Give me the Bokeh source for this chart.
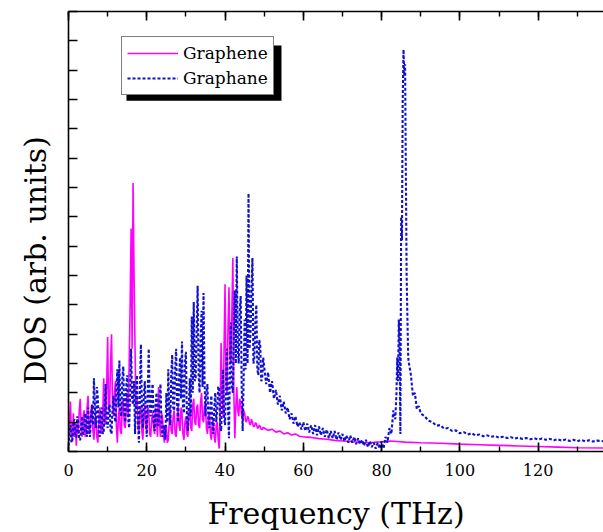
from bokeh.plotting import figure
from bokeh.models import (Range1d, LinearAxis, SingleIntervalTicker, Legend, LegendItem,
                          BoxAnnotation, Title)
from bokeh.embed import file_html
from bokeh.resources import INLINE

# ---------------- data ----------------
# dense part, sampled every 0.25 THz from 0 to 50 THz (one row = 1 THz)
dense_step = 0.25
graphene_dense = [
    0.3, 1.0, 1.7, 0.6,   0.4, 1.3, 0.5, 0.9,   0.2, 1.1, 0.6, 1.4,   1.8, 0.7, 0.5, 1.2,
    1.4, 0.5, 0.6, 1.5,   1.9, 0.6, 0.8, 1.4,   1.6, 0.7, 0.4, 1.1,   1.2, 0.5, 0.3, 1.0,
    1.5, 0.8, 0.6, 1.3,   2.5, 0.9, 1.0, 2.2,   3.9, 1.4, 1.5, 3.0,   4.0, 1.6, 1.2, 2.0,
    2.4, 0.8, 0.3, 1.2,   1.5, 0.7, 0.6, 1.6,   1.8, 0.9, 0.8, 1.5,   2.0, 1.2, 3.0, 5.0,
    7.6, 3.5, 9.15, 6.0,  3.5, 1.5, 1.9, 0.9,   0.6, 1.4, 1.5, 0.7,   0.4, 1.2, 1.6, 0.8,
    0.7, 1.5, 1.4, 0.6,   0.5, 1.1, 1.3, 0.8,   0.6, 1.5, 1.0, 0.5,   2.2, 1.0, 0.5, 1.3,
    1.2, 0.6, 0.3, 0.8,   0.9, 0.3, 0.4, 1.0,   1.5, 0.7, 0.6, 1.2,   1.4, 0.6, 0.5, 1.1,
    1.6, 0.9, 0.7, 1.5,   1.3, 0.6, 0.4, 1.0,   1.2, 0.6, 0.5, 1.3,   1.5, 0.8, 0.7, 1.6,
    1.8, 1.0, 0.9, 1.5,   1.6, 0.9, 0.8, 1.7,   2.0, 1.1, 1.0, 1.6,   1.5, 0.8, 0.6, 1.2,
    1.3, 0.6, 0.4, 1.0,   1.1, 0.5, 0.3, 0.9,   1.0, 0.4, 0.1, 1.5,   3.7, 2.0, 1.2, 3.5,
    5.7, 2.5, 2.0, 4.2,   5.6, 3.2, 3.0, 4.8,   6.6, 2.0, 0.45, 1.5,  2.2, 1.4, 1.2, 1.8,
    1.6, 1.2, 1.1, 1.4,   1.3, 1.05, 1.0, 1.2,  1.15, 0.95, 0.9, 1.1, 1.0, 0.85, 0.85, 0.98,
    0.95, 0.8, 0.8, 0.9,  0.85, 0.75, 0.75, 0.82,
    0.8,
]
graphane_dense = [
    0.2, 0.7, 0.9, 0.3,   0.4, 1.0, 1.1, 0.5,   0.5, 1.2, 1.0, 0.4,   0.4, 0.9, 1.2, 0.6,
    0.6, 1.3, 1.1, 0.5,   1.5, 0.8, 0.5, 1.2,   1.6, 0.9, 2.5, 1.4,   0.8, 2.2, 1.8, 0.7,
    0.5, 1.3, 1.5, 0.6,   0.7, 1.5, 2.3, 1.0,   0.8, 1.4, 1.6, 0.7,   0.6, 1.5, 1.9, 1.2,
    1.0, 2.2, 2.8, 1.5,   3.1, 1.4, 1.2, 2.5,   2.9, 1.3, 1.0, 2.2,   2.6, 1.1, 0.8, 2.0,
    3.5, 1.8, 1.6, 2.4,   0.6, 1.8, 2.6, 1.0,   0.3, 2.0, 3.65, 1.4,  0.8, 1.9, 2.4, 1.2,
    0.5, 2.1, 3.5, 1.6,   1.2, 2.0, 2.3, 1.0,   0.7, 1.6, 2.0, 0.9,   0.9, 1.8, 2.3, 1.0,
    0.5, 0.8, 0.9, 0.4,   2.0, 1.0, 2.8, 1.3,   0.9, 2.6, 3.3, 1.5,   1.4, 2.8, 3.5, 1.6,
    1.0, 2.5, 3.2, 1.8,   3.75, 1.5, 1.3, 3.0,  3.4, 1.2, 0.7, 1.6,   2.5, 1.2, 4.6, 2.0,
    5.1, 2.4, 2.5, 4.2,   5.65, 2.6, 2.0, 3.8,  4.8, 2.2, 5.4, 2.5,   1.2, 2.0, 2.3, 1.0,
    0.8, 1.6, 1.9, 0.9,   0.6, 1.5, 2.0, 1.0,   1.4, 2.2, 2.2, 0.9,   0.7, 1.8, 2.8, 1.2,
    0.9, 2.5, 3.5, 1.5,   0.45, 2.8, 4.4, 2.2,  2.0, 4.0, 5.5, 3.0,   6.65, 3.5, 3.0, 4.8,
    5.3, 2.2, 0.7, 2.5,   4.5, 2.8, 6.0, 3.0,   8.8, 3.5, 4.0, 5.5,   6.6, 3.0, 3.2, 4.5,
    5.0, 2.8, 2.6, 3.8,   3.6, 2.4, 2.5, 3.2,
    2.9,
]

# tails above 50 THz
graphene_tail_freq = [51, 52, 53, 54, 55, 56, 57, 58, 59, 60, 62, 64, 66, 68, 70, 72, 74, 76, 78,
                      80, 82, 84, 86, 90, 95, 100, 105, 110, 115, 120, 125, 130, 136.7]
graphene_tail_dos = [0.72, 0.76, 0.66, 0.7, 0.6, 0.64, 0.56, 0.6, 0.52, 0.5, 0.48, 0.44, 0.42,
                     0.38, 0.36, 0.34, 0.32, 0.3, 0.31, 0.33, 0.36, 0.34, 0.32, 0.3, 0.28, 0.25,
                     0.23, 0.21, 0.19, 0.17, 0.15, 0.13, 0.12]

graphane_tail_freq = [
    50.5, 51, 51.5, 52, 52.5, 53, 53.5, 54, 54.5, 55, 55.5, 56, 56.5, 57, 57.5, 58, 58.5, 59, 59.5,
    60, 60.5, 61, 61.5, 62, 62.5, 63, 63.5, 64, 64.5, 65, 65.5, 66, 66.5, 67, 67.5, 68, 68.5, 69,
    69.5, 70, 70.5, 71, 71.5, 72, 72.5, 73, 73.5, 74, 74.5, 75, 75.5, 76, 76.5, 77, 77.5, 78, 78.5,
    79, 79.5, 80, 80.5, 81, 81.5, 82, 82.5, 83, 83.5, 83.8, 84, 84.2, 84.4, 84.6, 84.8,
    85, 85.2, 85.4, 85.6, 85.8, 86, 86.2, 86.4, 86.6, 86.8,
    87, 87.5, 88, 88.5, 89, 89.5, 90, 91, 92, 93, 94, 95, 96, 97, 98, 99, 100, 101, 102, 103,
    104, 105, 106, 107, 108, 109, 110, 111, 112, 113, 114, 115, 116, 117, 118, 119, 120, 121,
    122, 123, 124, 125, 126, 127, 128, 129, 130, 131, 132, 133, 134, 135, 136.7,
]
graphane_tail_dos = [
    2.3, 2.7, 2.0, 2.4, 1.8, 2.1, 1.6, 1.9, 1.4, 1.7, 1.3, 1.5, 1.1, 1.3, 0.95, 1.2, 0.85, 1.0, 0.75,
    1.0, 0.7, 0.95, 0.65, 0.9, 0.6, 0.9, 0.55, 0.85, 0.55, 0.8, 0.5, 0.75, 0.45, 0.7, 0.45, 0.7, 0.4, 0.65,
    0.4, 0.6, 0.35, 0.55, 0.3, 0.55, 0.3, 0.5, 0.25, 0.45, 0.25, 0.4, 0.2, 0.4, 0.15, 0.35, 0.15, 0.3, 0.1,
    0.3, 0.1, 0.35, 0.1, 0.5, 0.3, 0.8, 0.6, 1.4, 1.1, 2.0, 3.2, 2.4, 4.5, 3.6, 0.6,
    8.0, 7.2, 12.0, 13.7, 12.8, 13.2, 9.5, 6.0, 4.5, 3.2,
    3.0, 2.6, 1.9, 2.0, 1.45, 1.55, 1.3, 1.2, 1.05, 1.0, 0.88, 0.9, 0.78, 0.8, 0.7, 0.72, 0.62, 0.66, 0.58, 0.62,
    0.55, 0.58, 0.52, 0.55, 0.5, 0.53, 0.47, 0.5, 0.46, 0.49, 0.44, 0.47, 0.43, 0.46, 0.42, 0.45, 0.41, 0.44,
    0.4, 0.43, 0.38, 0.42, 0.37, 0.41, 0.36, 0.4, 0.35, 0.39, 0.35, 0.38, 0.34, 0.37, 0.35,
]

dense_freq = [i * dense_step for i in range(len(graphene_dense))]
graphene_freq = dense_freq + graphene_tail_freq
graphene_dos = graphene_dense + graphene_tail_dos
graphane_freq = dense_freq + graphane_tail_freq
graphane_dos = graphane_dense + graphane_tail_dos

series_labels = ["Graphene", "Graphane"]
x_title = "Frequency (THz)"
y_title = "DOS (arb. units)"
x_ticks_major = 20

# ---------------- figure ----------------
FONT = "DejaVu Serif"

p = figure(frame_width=535, frame_height=440,
           min_border_left=68, min_border_right=0,
           min_border_top=11, min_border_bottom=81,
           x_range=Range1d(0, 136.7), y_range=Range1d(0, 15),
           output_backend="svg", toolbar_location=None)
p.outline_line_color = None
p.grid.visible = False
p.background_fill_color = "white"
p.border_fill_color = "white"

r1 = p.line(graphene_freq, graphene_dos, line_color="#ff00ff", line_width=1.6)
r2 = p.line(graphane_freq, graphane_dos, line_color="#1010d0", line_width=2.1,
            line_dash="3 2")

def style_axis(ax):
    ax.axis_line_width = 1.6
    ax.axis_line_color = "black"
    ax.major_tick_in = 9
    ax.major_tick_out = 0
    ax.minor_tick_in = 5
    ax.minor_tick_out = 0
    ax.major_tick_line_width = 1.6
    ax.minor_tick_line_width = 1.4
    ax.major_tick_line_color = "black"
    ax.minor_tick_line_color = "black"

def hide_labels(ax):
    ax.major_label_text_font_size = "1px"
    ax.major_label_text_color = None
    ax.major_label_text_alpha = 0
    ax.major_label_standoff = 0

xb = p.xaxis[0]
xb.ticker = SingleIntervalTicker(interval=x_ticks_major, num_minor_ticks=2)
style_axis(xb)
xb.major_label_text_font = FONT
xb.major_label_text_font_size = "16px"
xb.major_label_text_color = "black"
xb.major_label_standoff = 12
xb.axis_label = x_title
xb.axis_label_text_font = FONT
xb.axis_label_text_font_size = "30px"
xb.axis_label_text_font_style = "normal"
xb.axis_label_text_color = "black"
xb.axis_label_standoff = 17

xt = LinearAxis(ticker=SingleIntervalTicker(interval=x_ticks_major, num_minor_ticks=2))
style_axis(xt)
hide_labels(xt)
p.add_layout(xt, "above")

yl = p.yaxis[0]
yl.ticker = SingleIntervalTicker(interval=1, num_minor_ticks=0)
style_axis(yl)
hide_labels(yl)

# y title as a side title, shifted slightly below the frame centre as in the original
ytitle = Title(text=y_title, align="left", offset=67, standoff=31,
               text_font=FONT, text_font_size="30px", text_font_style="normal",
               text_color="black")
p.add_layout(ytitle, "left")

# legend shadow
shadow = BoxAnnotation(left=14.82, right=54.42, top=13.84, bottom=11.96,
                       fill_color="black", fill_alpha=1.0, line_color=None)
p.add_layout(shadow)

legend = Legend(items=[LegendItem(label=series_labels[0], renderers=[r1]),
                       LegendItem(label=series_labels[1], renderers=[r2])],
                location=(53, 356), orientation="vertical",
                glyph_width=51, glyph_height=22, label_height=22,
                label_standoff=5, padding=5, spacing=3, margin=0,
                label_text_font=FONT, label_text_font_size="17px",
                label_text_color="black",
                border_line_color="black", border_line_width=1.2,
                background_fill_color="white", background_fill_alpha=1.0)
p.add_layout(legend, "center")

open("out.html", "w").write(file_html(p, INLINE))
